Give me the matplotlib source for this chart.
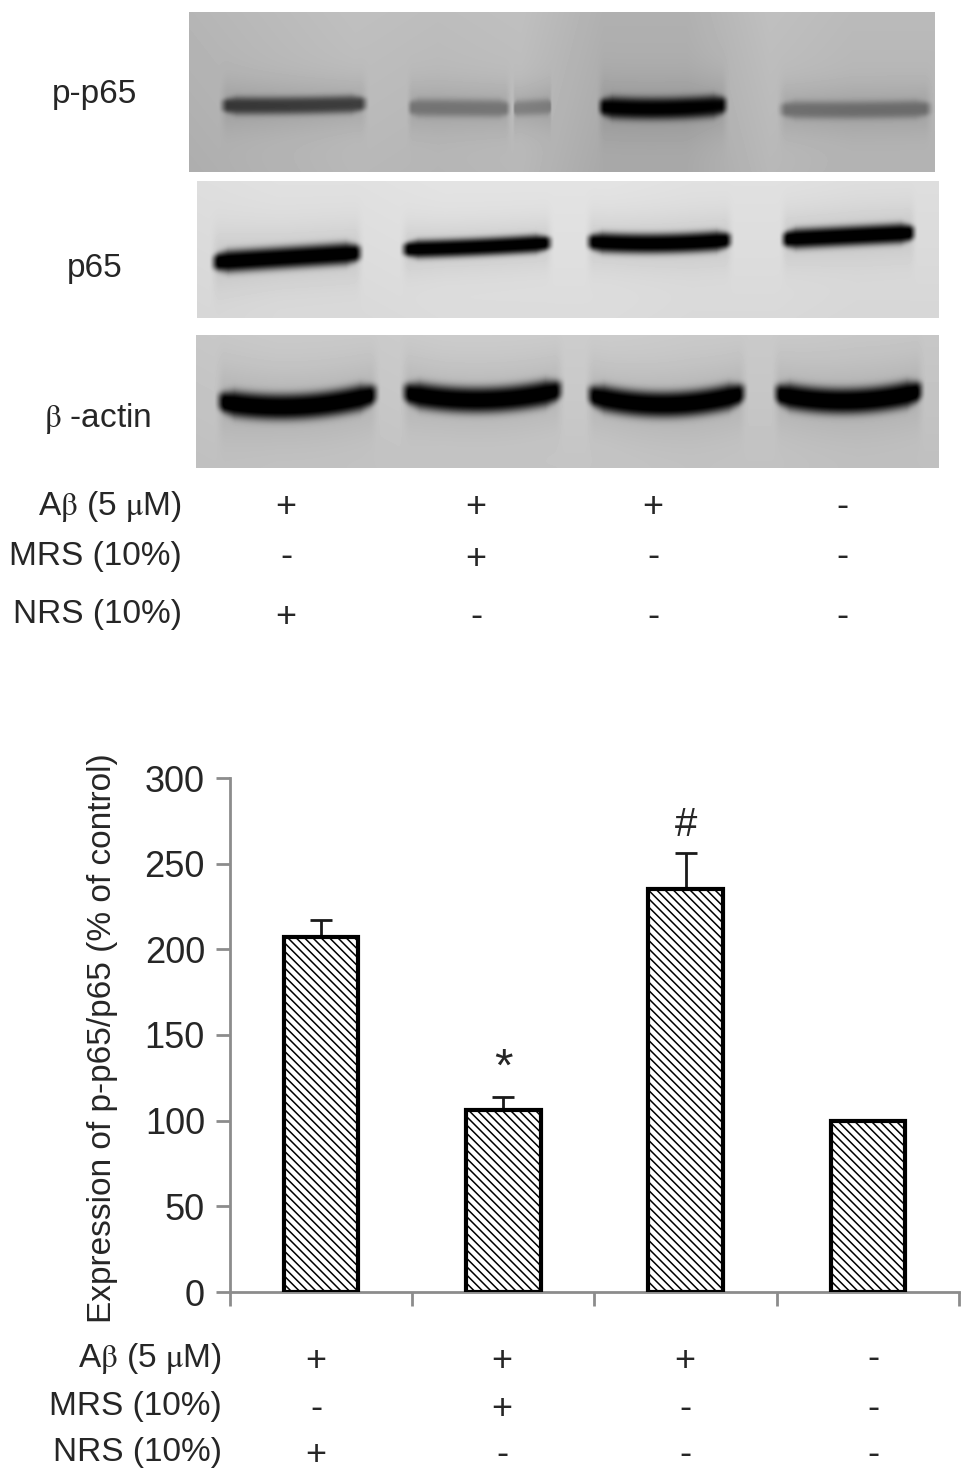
import numpy as np
import matplotlib
matplotlib.use('Agg')
import matplotlib.pyplot as plt

W, H = 970, 1481

## chart values
groups = ['Abeta', 'MRS+Abeta', 'Abeta only', 'control']
values = [207, 106, 235, 100]
errors = [10, 8, 21, 0]
marks = ['', '*', '#', '']
yticks = [0, 50, 100, 150, 200, 250, 300]
ylabel = 'Expression of p-p65/p65 (% of control)'

## treatment table
row_names = [r'A$\mathrm{\beta}$ (5 $\mathrm{\mu}$M)', 'MRS (10%)', 'NRS (10%)']
row_abeta = ['+', '+', '+', '-']
row_mrs = ['-', '+', '-', '-']
row_nrs = ['+', '-', '-', '-']

## blot panels, pixel rect and grey level across the membrane
blot_names = ['p-p65', 'p65', r'$\mathrm{\beta}$ -actin']
rects = [(189, 935, 12, 172), (197, 939, 181, 318), (196, 939, 335, 468)]
lane_bg = [[0.68, 0.70, 0.72, 0.71, 0.72, 0.66, 0.66, 0.72, 0.70, 0.70],
           [0.84, 0.85, 0.85, 0.86, 0.86, 0.86, 0.85, 0.85, 0.84, 0.84],
           [0.75, 0.76, 0.76, 0.77, 0.77, 0.77, 0.76, 0.76, 0.75, 0.75]]
# x0, x1, y left, y right, smile, half thickness, strength
bands = [
    [(217, 370, 105, 103, 1, 9, 0.42), (405, 512, 107, 108, 0, 9, 0.20), (512, 552, 108, 106, 0, 8, 0.16),
     (595, 730, 106, 104, 3, 11, 0.62), (775, 935, 109, 108, 1, 9, 0.22)],
    [(208, 365, 262, 252, 0, 11, 0.85), (398, 555, 249, 242, 1, 9, 0.85),
     (583, 735, 241, 239, 3, 10, 0.85), (778, 918, 239, 232, 0, 10, 0.85)],
    [(213, 381, 400, 392, 10, 13, 0.77), (398, 566, 391, 388, 10, 13, 0.77),
     (583, 749, 393, 391, 12, 13, 0.77), (770, 926, 392, 389, 10, 13, 0.77)],
]


def make_blot(rect, bg, lanes):
    x0, x1, y0, y1 = rect
    xx, yy = np.meshgrid(np.arange(x0, x1), np.arange(y0, y1))
    # grey level drifts from left to right
    pos = (xx - x0) / (x1 - x0) * (len(bg) - 1)
    img = np.interp(pos.ravel(), np.arange(len(bg)), bg).reshape(xx.shape)
    # lighter towards the top of the membrane
    img = img + 0.03 * (1 - (yy - y0) / (y1 - y0))
    for b in lanes:
        bx0, bx1, yl, yr, smile, half, amp = b
        t = (xx - bx0) / (bx1 - bx0)
        center = yl + (yr - yl) * t + smile * 4 * t * (1 - t)
        edge_x = np.clip(t * 14, 0, 1) * np.clip((1 - t) * 14, 0, 1)
        edge_x = edge_x * (3 - 2 * edge_x) * edge_x
        thick = half * (0.6 + 0.4 * np.clip(np.minimum(t, 1 - t) * 8, 0, 1))
        core = np.exp(-(np.abs(yy - center) / thick) ** 3)
        halo = np.exp(-((yy - center) / (half * 2.8)) ** 2) * 0.07
        img = img - (amp * core + halo) * edge_x
    return np.clip(img, 0, 1)


def px(x, y):
    return x / W, 1 - y / H


def draw_row(xs, y, row):
    for x, s in zip(xs, row):
        # the minus sits a bit higher than the plus in the original
        yy = y - 2 if s == '-' else y
        fig.text(*px(x, yy), s, ha='center', va='center', fontsize=fs + 2, color=text_color)


plt.rcParams['font.family'] = ['Liberation Sans', 'DejaVu Sans']
plt.rcParams['mathtext.fontset'] = 'stix'
plt.rcParams['hatch.linewidth'] = 1.1
text_color = '#262626'
fs = 24

fig = plt.figure(figsize=(W / 100, H / 100), dpi=100, facecolor='white')

## blots
for rect, bg, lanes in zip(rects, lane_bg, bands):
    x0, x1, y0, y1 = rect
    ax_b = fig.add_axes([x0 / W, 1 - y1 / H, (x1 - x0) / W, (y1 - y0) / H])
    ax_b.imshow(make_blot(rect, bg, lanes), cmap='gray', vmin=0, vmax=1, aspect='auto', interpolation='bilinear')
    ax_b.axis('off')

for name, pos in zip(blot_names, [(95, 95), (95, 268), (98, 418)]):
    fig.text(*px(*pos), name, ha='center', va='center', fontsize=fs, color=text_color)

## top table
top_x = [286, 476, 653, 842]
top_y = [508, 559, 618]
top_label_y = [506, 557, 615]
for name, ly, yy, row in zip(row_names, top_label_y, top_y, [row_abeta, row_mrs, row_nrs]):
    fig.text(*px(182, ly), name, ha='right', va='center', fontsize=fs, color=text_color)
    draw_row(top_x, yy, row)

## bar chart
ax = fig.add_axes([230 / W, 1 - 1292 / H, 729 / W, 514 / H])
pos = np.arange(len(values)) + 0.5
ax.bar(pos, values, width=0.41, facecolor='white', edgecolor='black', linewidth=3, hatch='\\\\\\\\', zorder=3)
for p, v, e in zip(pos, values, errors):
    if e > 0:
        ax.errorbar(p, v, yerr=[[0], [e]], color='#1a1a1a', elinewidth=2, capsize=8, capthick=2, zorder=2)
for p, v, e, m, size in zip(pos, values, errors, marks, [0, 34, 29, 0]):
    if m:
        ax.text(p, v + e + 16.5, m, ha='center', va='center', fontsize=size, color=text_color)

ax.set_xlim(0, 4)
ax.set_ylim(0, 300)
ax.set_yticks(yticks)
ax.set_xticks(np.arange(5))
ax.set_xticklabels([])
ax.tick_params(axis='both', color='#8c8c8c', width=2, length=10, labelsize=26, labelcolor=text_color, pad=8)
for side in ['top', 'right']:
    ax.spines[side].set_visible(False)
for side in ['left', 'bottom']:
    ax.spines[side].set_color('#8c8c8c')
    ax.spines[side].set_linewidth(2)
ax.patch.set_alpha(0)
fig.text(*px(103, 1038), ylabel, rotation=90, ha='center', va='center', fontsize=24, color=text_color)

## bottom table
bot_x = [316, 502, 685, 873]
bot_y = [1361, 1410, 1456]
bot_label_y = [1359, 1407, 1453]
for name, ly, yy, row in zip(row_names, bot_label_y, bot_y, [row_abeta, row_mrs, row_nrs]):
    fig.text(*px(222, ly), name, ha='right', va='center', fontsize=fs, color=text_color)
    draw_row(bot_x, yy, row)

fig.savefig('out.png', dpi=100)
